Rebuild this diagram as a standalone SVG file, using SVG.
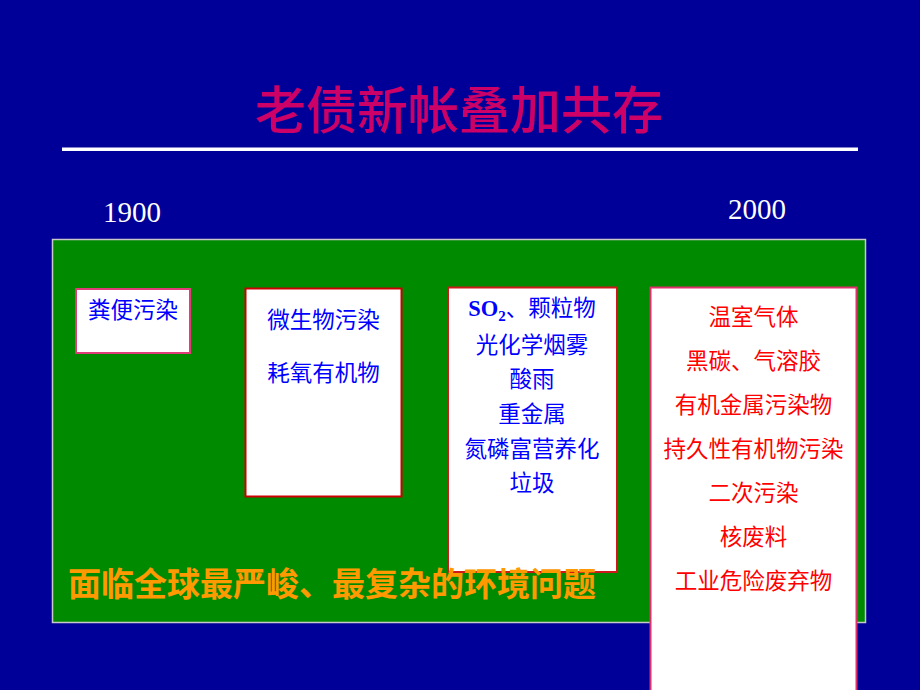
<svg xmlns="http://www.w3.org/2000/svg" width="920" height="690" viewBox="0 0 920 690">
  <style>
    .cjk { font-family: "Noto Sans CJK SC", "Noto Sans", sans-serif; }
    .box text { font-size: 22.5px; text-anchor: middle; }
    .blue { fill: #0000ff; }
    .red { fill: #ff0000; }
    .year { font-family: "Liberation Serif", serif; font-size: 29px; fill: #ffffff; }
  </style>
  <rect x="0" y="0" width="920" height="690" fill="#000099"/>
  <g id="title">
    <text class="cjk" x="459" y="129" font-size="51" font-weight="500" fill="#cc0066" text-anchor="middle">老债新帐叠加共存</text>
    <rect x="62" y="147.5" width="796" height="3.5" fill="#ffffff"/>
  </g>
  <g id="years">
    <text class="year" x="103" y="222">1900</text>
    <text class="year" x="728" y="219">2000</text>
  </g>
  <g id="panel">
    <rect x="52.5" y="239.5" width="813" height="383" fill="#008a00" stroke="#c8c8c8" stroke-width="1.5"/>
  </g>
  <g id="box1" class="box cjk">
    <rect x="76" y="289" width="114" height="64" fill="#ffffff" stroke="#e03c78" stroke-width="2"/>
    <text class="blue" x="133" y="318">粪便污染</text>
  </g>
  <g id="box2" class="box cjk">
    <rect x="245.5" y="288.5" width="156" height="208" fill="#ffffff" stroke="#cc0000" stroke-width="2"/>
    <text class="blue" x="323.5" y="328">微生物污染</text>
    <text class="blue" x="323.5" y="381">耗氧有机物</text>
  </g>
  <g id="box3" class="box cjk">
    <rect x="448" y="287.5" width="169" height="284.5" fill="#ffffff" stroke="#cc1a1a" stroke-width="2"/>
    <text class="blue" x="532" y="316"><tspan font-family="Liberation Serif, serif" font-weight="bold">SO<tspan font-size="15" dy="5">2</tspan></tspan><tspan dy="-5">、颗粒物</tspan></text>
    <text class="blue" x="532" y="353">光化学烟雾</text>
    <text class="blue" x="532" y="387">酸雨</text>
    <text class="blue" x="532" y="422">重金属</text>
    <text class="blue" x="532" y="457">氮磷富营养化</text>
    <text class="blue" x="532" y="491">垃圾</text>
  </g>
  <g id="box4" class="box cjk">
    <rect x="650.5" y="287.5" width="206" height="410" fill="#ffffff" stroke="#e0306c" stroke-width="2"/>
    <text class="red" x="753.5" y="325">温室气体</text>
    <text class="red" x="753.5" y="369">黑碳、气溶胶</text>
    <text class="red" x="753.5" y="413">有机金属污染物</text>
    <text class="red" x="753.5" y="457">持久性有机物污染</text>
    <text class="red" x="753.5" y="501">二次污染</text>
    <text class="red" x="753.5" y="545">核废料</text>
    <text class="red" x="753.5" y="589">工业危险废弃物</text>
  </g>
  <g id="caption">
    <text class="cjk" x="68" y="596" font-size="33" font-weight="bold" fill="#ff9900">面临全球最严峻、最复杂的环境问题</text>
  </g>
</svg>
